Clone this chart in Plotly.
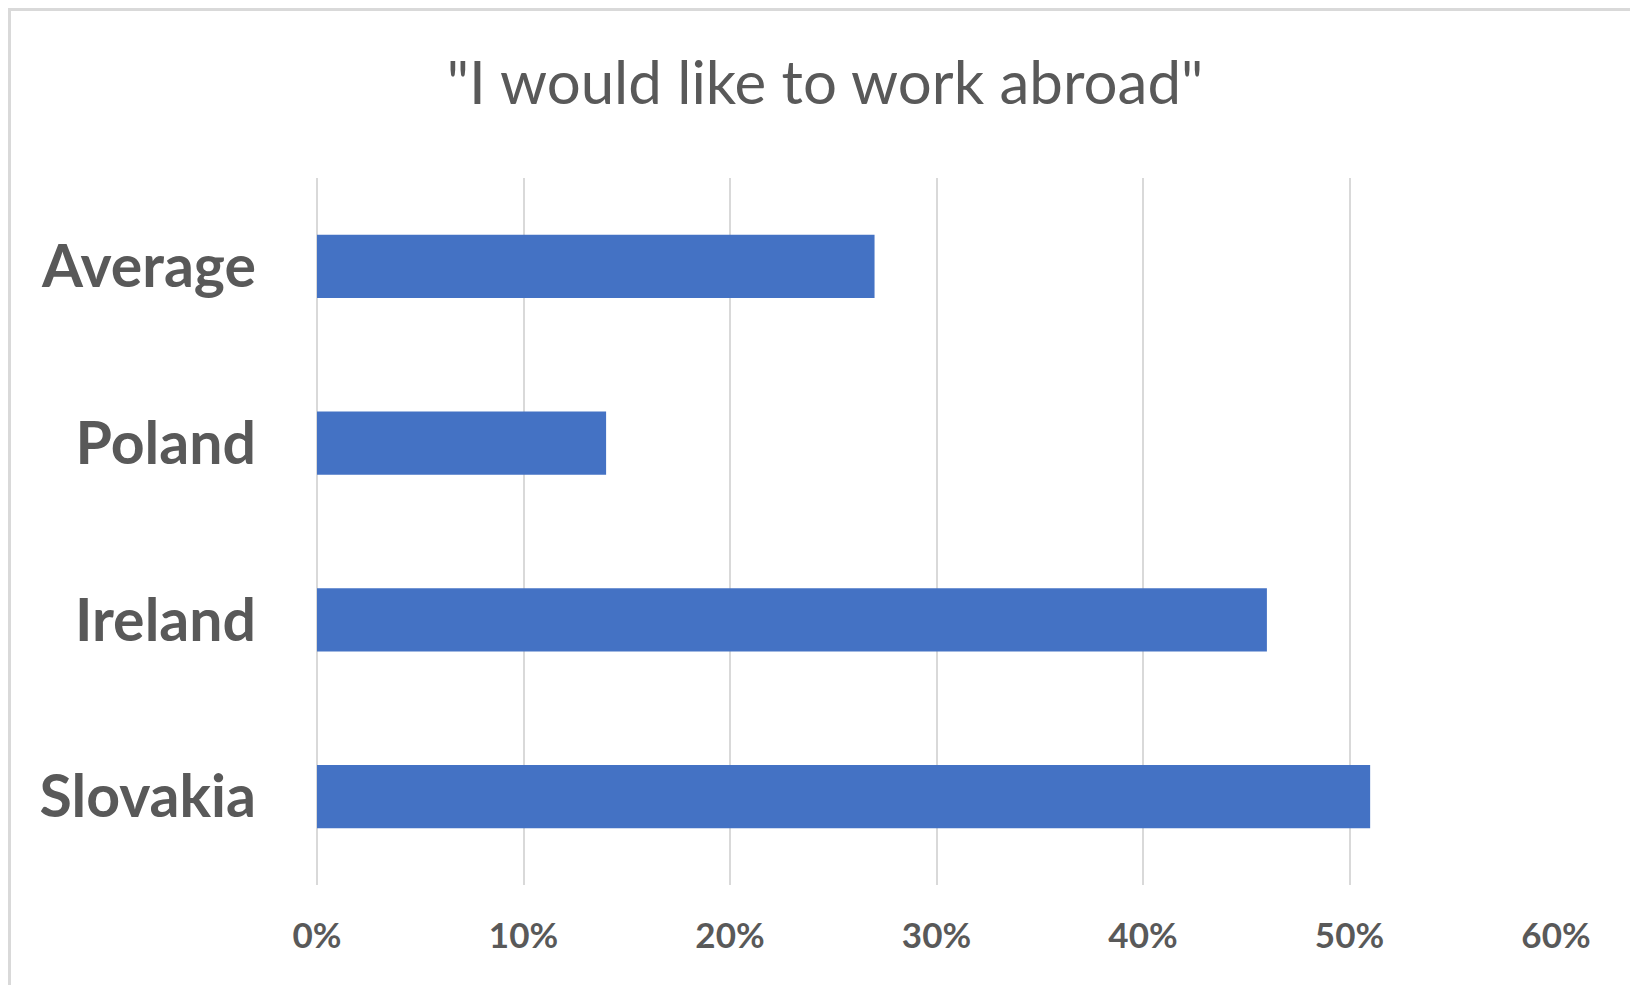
import plotly.graph_objects as go

# Data (bottom to top)
categories = ["Slovakia", "Ireland", "Poland", "Average"]
values = [0.51, 0.46, 0.14, 0.27]
tick_vals = [0, 0.1, 0.2, 0.3, 0.4, 0.5, 0.6]
tick_text = ["0%", "10%", "20%", "30%", "40%", "50%", "60%"]

W, H = 1630, 985
L, R, T, B = 317, 74, 178, 100

fig = go.Figure(
    go.Bar(
        x=values,
        y=categories,
        orientation="h",
        marker=dict(color="#4472C4", line=dict(width=0)),
        hoverinfo="skip",
    )
)

pw = W - L - R
ph = H - T - B


def px_to_paper_x(px):
    return (px - L) / pw


def px_to_paper_y(py):
    return (H - B - py) / ph


fig.add_shape(
    type="rect",
    xref="paper", yref="paper",
    x0=px_to_paper_x(9.5), x1=px_to_paper_x(1660),
    y0=px_to_paper_y(1010), y1=px_to_paper_y(9.5),
    line=dict(color="#D9D9D9", width=3),
    fillcolor="rgba(0,0,0,0)",
    layer="below",
)

fig.update_layout(
    width=W, height=H,
    margin=dict(l=L, r=R, t=T, b=B, pad=0),
    paper_bgcolor="white",
    plot_bgcolor="white",
    bargap=0.643,
    showlegend=False,
    title=dict(
        text='"I would like to work abroad"',
        x=825 / W, xref="container", xanchor="center",
        y=1 - 83 / H, yref="container", yanchor="middle",
        font=dict(family="Lato", size=60, color="#595959"),
    ),
    xaxis=dict(
        range=[0, 0.6],
        tickvals=tick_vals,
        ticktext=tick_text,
        showgrid=True,
        gridcolor="#D9D9D9",
        gridwidth=2,
        zeroline=True,
        zerolinecolor="#D9D9D9",
        zerolinewidth=2,
        showline=False,
        ticks="",
        ticklabelstandoff=27,
        tickfont=dict(family="Lato", size=35, color="#595959", weight="bold"),
        fixedrange=True,
    ),
    yaxis=dict(
        showgrid=False,
        zeroline=False,
        showline=False,
        ticks="",
        ticklabelstandoff=60,
        tickfont=dict(family="Lato", size=59, color="#595959", weight="bold"),
        fixedrange=True,
    ),
)

fig.write_html("out.html")
